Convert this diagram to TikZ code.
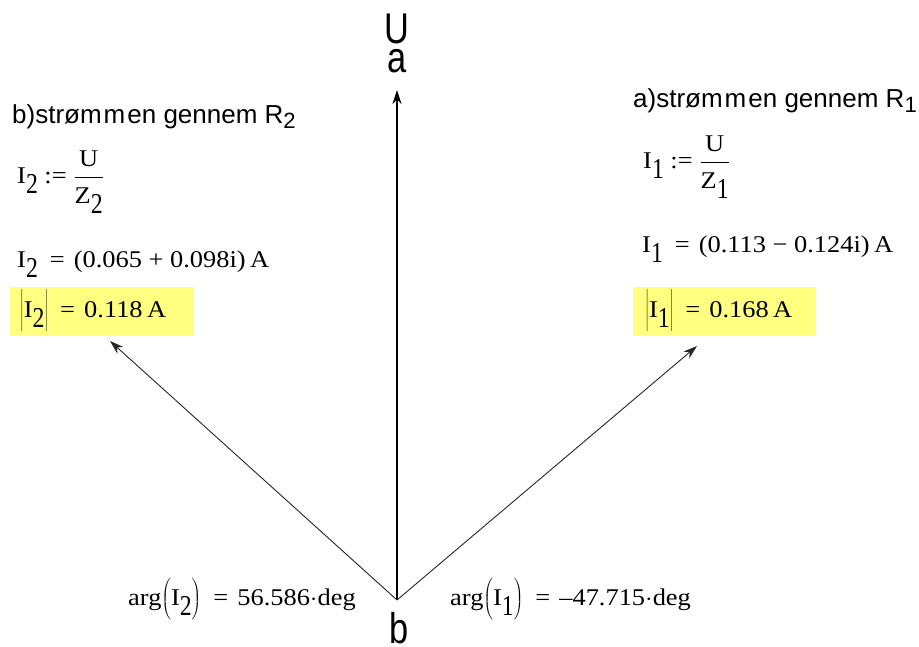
\documentclass[tikz,border=0pt]{standalone}
\usepackage{fontspec}
\usepackage{graphicx}
\setmainfont{Liberation Serif}
\newfontfamily\labelfont{Liberation Sans}
\usetikzlibrary{arrows.meta}
\definecolor{markyellow}{RGB}{255,255,128}
\newcommand{\lsub}[1]{\raisebox{-0.42em}{\scalebox{0.9}[1.2]{#1}}}
\newcommand{\hsub}[1]{\raisebox{-0.22em}{\scalebox{0.85}{#1}}}
\newcommand{\gapeq}{\hspace{0.45em}=\hspace{0.35em}}
\newcommand{\tallstrut}{\rule[-16pt]{0pt}{43pt}}
\newcommand{\ratio}[2]{${\displaystyle\frac{\mbox{#1}\rule[-8pt]{0pt}{0pt}}{\rule{0pt}{25pt}\mbox{#2}}}$}
\begin{document}
\begin{tikzpicture}[x=1pt,y=-1pt,
  every node/.style={inner sep=0pt},
  vec/.style={-{Stealth[length=14pt,width=9pt]},line width=0.9pt,black!85},
  heading/.style={anchor=base west,font=\labelfont\fontsize{26}{30}\selectfont},
  formula/.style={anchor=base west,font=\fontsize{24}{28}\selectfont,xscale=1.1},
  result/.style={anchor=west,font=\fontsize{24}{28}\selectfont,xscale=1.1,fill=markyellow,
    minimum height=49pt,text width=148pt,inner xsep=9.1pt,align=left},
  pole/.style={font=\labelfont\fontsize{43}{43}\selectfont,xscale=0.8}]
\useasboundingbox (0,0) rectangle (919,646);
\coordinate (b) at (397,600);
\coordinate (tipU) at (397,90);
\coordinate (tipII) at (110,341);
\coordinate (tipI) at (697,346);
\draw[vec,line width=1.2pt,black] (b) -- (tipU);
\draw[vec] (b) -- (tipII);
\draw[vec] (b) -- (tipI);
\node[pole,anchor=base] (labU) at (397,43) {U};
\node[pole,anchor=base] (laba) at (397,72) {a};
\node[pole,anchor=base] (labb) at (399,643) {b};
\node[heading] (headII) at (12,123) {b)strøm\kern2pt m\kern2pt en gennem R\hsub{2}};
\node[heading] (headI) at (633,107) {a)strøm\kern2pt m\kern2pt en gennem R\hsub{1}};
\node[formula] (defII) at (17,183) {I\lsub{2}\ :=\ \ratio{U}{Z\lsub{2}}};
\node[formula] (defI) at (643,168) {I\lsub{1}\ :=\ \ratio{U}{Z\lsub{1}}};
\node[formula] (valII) at (17,267) {I\lsub{2}\gapeq(0.065 + 0.098i)\,A};
\node[formula] (valI) at (642,252) {I\lsub{1}\gapeq(0.113 − 0.124i)\,A};
\node[result] (absII) at (10,311.5) {$\left|\mbox{I\lsub{2}}\tallstrut\right|$\gapeq0.118\,A};
\node[result] (absI) at (633,311.5) {\hspace{2pt}$\left|\mbox{I\lsub{1}}\tallstrut\right|$\gapeq0.168\,A};
\node[formula] (argII) at (128,605) {arg$\left(\mbox{I\lsub{2}}\tallstrut\right)$\gapeq56.586$\cdot$deg};
\node[formula] (argI) at (450,605) {arg$\left(\mbox{I\lsub{1}}\tallstrut\right)$\gapeq–47.715$\cdot$deg};
\end{tikzpicture}
\end{document}
